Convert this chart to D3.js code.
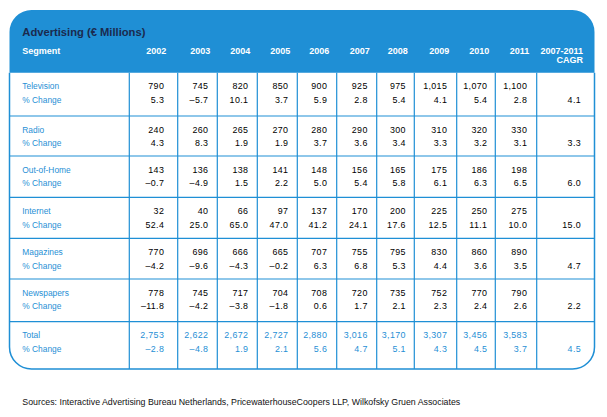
<!DOCTYPE html>
<html>
<head>
<meta charset="utf-8">
<script src="https://cdn.jsdelivr.net/npm/d3@7"></script>
<style>
html,body{margin:0;padding:0;background:#fff;}
svg{display:block;}
</style>
</head>
<body>
<svg id="c" width="607" height="417"></svg>
<script>
const title = "Advertising (€ Millions)";
const segHeader = "Segment";
const years = ["2002","2003","2004","2005","2006","2007","2008","2009","2010","2011"];
const cagrHeader = ["2007-2011","CAGR"];
const changeLabel = "% Change";
const segments = ["Television","Radio","Out-of-Home","Internet","Magazines","Newspapers","Total"];
const television = [790,745,820,850,900,925,975,1015,1070,1100];
const televisionChg = [5.3,-5.7,10.1,3.7,5.9,2.8,5.4,4.1,5.4,2.8];
const radio = [240,260,265,270,280,290,300,310,320,330];
const radioChg = [4.3,8.3,1.9,1.9,3.7,3.6,3.4,3.3,3.2,3.1];
const outOfHome = [143,136,138,141,148,156,165,175,186,198];
const outOfHomeChg = [-0.7,-4.9,1.5,2.2,5.0,5.4,5.8,6.1,6.3,6.5];
const internet = [32,40,66,97,137,170,200,225,250,275];
const internetChg = [52.4,25.0,65.0,47.0,41.2,24.1,17.6,12.5,11.1,10.0];
const magazines = [770,696,666,665,707,755,795,830,860,890];
const magazinesChg = [-4.2,-9.6,-4.3,-0.2,6.3,6.8,5.3,4.4,3.6,3.5];
const newspapers = [778,745,717,704,708,720,735,752,770,790];
const newspapersChg = [-11.8,-4.2,-3.8,-1.8,0.6,1.7,2.1,2.3,2.4,2.6];
const total = [2753,2622,2672,2727,2880,3016,3170,3307,3456,3583];
const totalChg = [-2.8,-4.8,1.9,2.1,5.6,4.7,5.1,4.3,4.5,3.7];
const cagr = [4.1,3.3,6.0,15.0,4.7,2.2,4.5];
const source = "Sources: Interactive Advertising Bureau Netherlands, PricewaterhouseCoopers LLP, Wilkofsky Gruen Associates";

const rows = [
  {name:segments[0], v:television, c:televisionChg, g:cagr[0]},
  {name:segments[1], v:radio, c:radioChg, g:cagr[1]},
  {name:segments[2], v:outOfHome, c:outOfHomeChg, g:cagr[2]},
  {name:segments[3], v:internet, c:internetChg, g:cagr[3]},
  {name:segments[4], v:magazines, c:magazinesChg, g:cagr[4]},
  {name:segments[5], v:newspapers, c:newspapersChg, g:cagr[5]},
  {name:segments[6], v:total, c:totalChg, g:cagr[6], total:true}
];

const loc = d3.formatLocale({decimal:".", thousands:",", grouping:[3], currency:["",""], minus:"\u2013"});
const fmtV = loc.format(",");
const fmtC = loc.format(".1f");

const BLUE = "#1f8fd5";
const NAVY = "#1b2a4e";
const FONT = "'Liberation Sans', Arial, Helvetica, sans-serif";

// layout
const L = 9.5, R = 594.5, T = 10, HB = 72.7, B = 369, RAD = 22;
const colEdges = [L,129.3,177.7,217.3,257.3,297.3,336.7,376.7,414.3,456.7,495.3,536.7,R];
const padR = [13.5,9,9,9,9.5,9,8.5,9.5,8,9.5,13.5];
const rowEdges = [HB,116,156,197.3,238.3,279,321.7,B];

const colIdx = d3.range(years.length + 1);
const xRight = d3.scaleOrdinal().domain(colIdx).range(colIdx.map(i => colEdges[i+2] - padR[i]));
const yTop = d3.scaleOrdinal().domain(d3.range(rows.length)).range(rowEdges.slice(0, rows.length));

const svg = d3.select("#c");

// header band
const hdr = d3.path();
hdr.moveTo(L, HB);
hdr.lineTo(L, T + RAD);
hdr.arcTo(L, T, L + RAD, T, RAD);
hdr.lineTo(R - RAD, T);
hdr.arcTo(R, T, R, T + RAD, RAD);
hdr.lineTo(R, HB);
hdr.closePath();
svg.append("path").attr("d", hdr.toString()).attr("fill", BLUE);

// grid lines
const g = svg.append("g").attr("stroke", BLUE).attr("stroke-width", 1.2).attr("fill", "none");
g.selectAll("line.h").data(rowEdges.slice(1, -1)).join("line")
  .attr("x1", L).attr("x2", R).attr("y1", d => d).attr("y2", d => d);
g.selectAll("line.v").data(colEdges.slice(1, -1)).join("line")
  .attr("x1", d => d).attr("x2", d => d).attr("y1", HB).attr("y2", B);

// body outline
const body = d3.path();
body.moveTo(L, HB);
body.lineTo(L, B - RAD);
body.arcTo(L, B, L + RAD, B, RAD);
body.lineTo(R - RAD, B);
body.arcTo(R, B, R, B - RAD, RAD);
body.lineTo(R, HB);
g.append("path").attr("d", body.toString()).attr("stroke-width", 1.5);

// title and header
svg.append("text").attr("x", 22.3).attr("y", 36).attr("font-family", FONT)
  .attr("font-size", 11.2).attr("font-weight", "bold").attr("fill", NAVY).text(title);
const hg = svg.append("g").attr("font-family", FONT).attr("font-size", 9)
  .attr("font-weight", "bold").attr("fill", "#fff");
hg.append("text").attr("x", 22.3).attr("y", 54).text(segHeader);
hg.selectAll("text.yr").data(years).join("text").attr("class","yr")
  .attr("x", (d, i) => xRight(i) + 2).attr("y", 54).attr("text-anchor", "end").text(d => d);
hg.selectAll("text.cg").data(cagrHeader).join("text").attr("class","cg")
  .attr("x", xRight(years.length) + 2).attr("y", (d, i) => 54 + i * 9.3)
  .attr("text-anchor", "end").text(d => d);

// rows
const rg = svg.selectAll("g.row").data(rows).join("g").attr("class", "row")
  .attr("transform", (d, i) => `translate(0,${yTop(i)})`)
  .attr("font-family", FONT).attr("font-size", 8.4);
rg.append("text").attr("x", 22.3).attr("y", 16.5).attr("fill", BLUE).text(d => d.name);
rg.append("text").attr("x", 22.3).attr("y", 30.3).attr("fill", BLUE).text(changeLabel);
rg.each(function(d) {
  const s = d3.select(this);
  const col = d.total ? BLUE : "#000";
  const t = s.append("g").attr("font-size", 8.9).attr("letter-spacing", 0.35);
  t.selectAll("text.v").data(d.v).join("text").attr("class", "v")
    .attr("x", (v, i) => xRight(i)).attr("y", 16.5).attr("text-anchor", "end")
    .attr("fill", col).text(v => fmtV(v));
  t.selectAll("text.c").data(d.c).join("text").attr("class", "c")
    .attr("x", (v, i) => xRight(i)).attr("y", 30.3).attr("text-anchor", "end")
    .attr("fill", col).text(v => fmtC(v));
  t.append("text").attr("x", xRight(years.length)).attr("y", 30.3).attr("text-anchor", "end")
    .attr("fill", col).text(fmtC(d.g));
});

// source
svg.append("text").attr("x", 22.3).attr("y", 405).attr("font-family", FONT)
  .attr("font-size", 8.8).attr("fill", "#111").text(source);
</script>
</body>
</html>
